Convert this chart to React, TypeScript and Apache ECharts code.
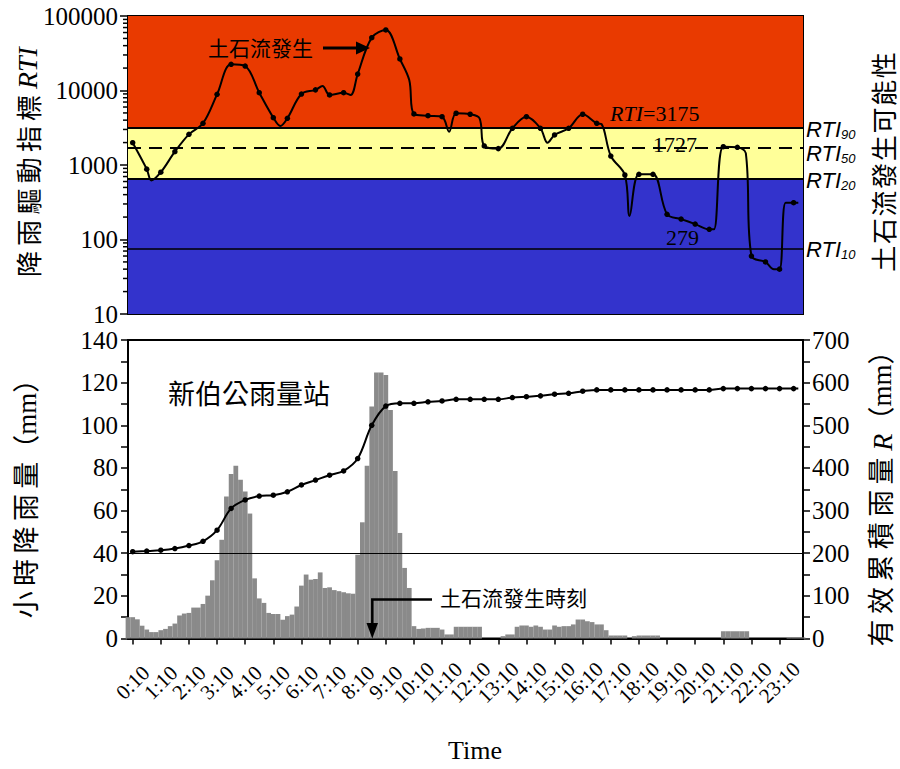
import React, { useEffect, useRef } from 'react';
import * as echarts from 'echarts';

// ---------- data ----------
// hourly rainfall (mm), one value every 10 minutes from 0:00 to 24:00
const hourlyRain = [
  10, 10, 9, 6, 4.2, 3, 3, 3.9, 4.5, 5.8,
  7, 10.8, 11.7, 12, 14.5, 14.5, 16.2, 20.1, 27.3, 36.7,
  46.3, 66.6, 77.2, 81, 74.4, 69, 58.6, 28.2, 18.8, 16.7,
  12, 11.5, 11.5, 8.8, 10.5, 11.2, 15, 24.8, 30, 27.6,
  27.9, 31, 23.7, 24, 22.7, 22.2, 21.7, 21.2, 21, 39.3,
  54.5, 81, 108.8, 124.8, 124.8, 123.6, 107.2, 78.6, 49.5, 33.1,
  23.7, 5.8, 4.5, 4.7, 5, 5, 5, 4.2, 1.9, 1.9,
  5.5, 5.5, 5.5, 5.5, 5.5, 5.5, 0, 0, 0, 0,
  1.1, 1.9, 1.9, 5.5, 6.1, 6.1, 5.5, 6.1, 5.5, 4.2,
  4.2, 6.1, 5.5, 5.8, 5.8, 6.6, 8.9, 8.9, 8.1, 7.7,
  6.6, 6.6, 3.9, 1.4, 1.4, 1.4, 1.4, 0, 1.1, 1.4,
  1.4, 1.4, 1.4, 1.4, 0, 0, 0, 0, 0, 0,
  0, 0, 0, 0, 0, 0, 0, 3.4, 3.4, 3.4,
  3.4, 3.4, 3.4, 0, 0, 0, 0, 0, 0, 0,
  0, 0.5, 0.5, 0.5, 0.5,
];

// effective accumulated rainfall R (mm)
const cumTimes = [
  10, 40, 70, 100, 130, 160, 190, 220, 250, 280,
  310, 340, 370, 400, 430, 460, 490, 520, 550, 580,
  610, 640, 670, 700, 730, 760, 790, 820, 850, 880,
  910, 940, 970, 1000, 1030, 1060, 1090, 1120, 1150, 1180,
  1210, 1240, 1270, 1300, 1330, 1360, 1390, 1420, 1430,
];
const cumRain = [
  203.5, 205, 207, 211, 218, 228, 254, 305, 325, 334,
  336, 344, 360, 371.5, 383, 393, 422, 500, 545, 551.5,
  551.5, 555, 557, 561, 561, 561, 561, 565, 567, 569,
  573, 575, 580, 583, 583, 583, 583, 583, 583, 583,
  583, 583, 586, 586, 586, 586, 586, 586, 586,
];

// rainfall triggering index RTI
const rtiTimes = [
  10, 40, 50, 70, 100, 130, 160, 190, 220, 250,
  280, 310, 325, 340, 370, 400, 415, 430, 460, 475,
  490, 520, 550, 580, 600, 610, 640, 670, 685, 700,
  730, 750, 760, 790, 820, 850, 880, 895, 910, 940,
  970, 1000, 1010, 1030, 1060, 1070, 1090, 1120, 1150, 1180,
  1210, 1240, 1250, 1270, 1300, 1318, 1330, 1360, 1378, 1390,
  1403, 1420, 1430,
];
const rtiValues = [
  1990, 880, 620, 800, 1510, 2580, 3630, 8890, 22500, 21300,
  9340, 4320, 3340, 4230, 8970, 10200, 11500, 8710, 9340, 8710,
  16600, 51200, 64900, 26500, 13800, 4840, 4590, 4450, 2800, 4950,
  4800, 4230, 1800, 1660, 3110, 4450, 3110, 1990, 2530, 3110,
  4800, 3630, 3550, 1320, 734, 207, 750, 750, 218, 188,
  161, 137, 137, 1760, 1730, 1440, 60, 50, 40, 40,
  312, 312, 312,
];

// thresholds
const RTI90 = 3175;
const RTI50 = 1727;
const RTI20 = 646;
const RTI10 = 76;
const rainLine = 40;

// axis ticks (minutes after midnight) and labels
const timeTicks = [10, 70, 130, 190, 250, 310, 370, 430, 490, 550, 610, 670, 730, 790, 850, 910, 970, 1030, 1090, 1150, 1210, 1270, 1330, 1390];
const timeLabels = ['0:10', '1:10', '2:10', '3:10', '4:10', '5:10', '6:10', '7:10', '8:10', '9:10', '10:10', '11:10', '12:10', '13:10', '14:10', '15:10', '16:10', '17:10', '18:10', '19:10', '20:10', '21:10', '22:10', '23:10'];
const logMinor = [20, 30, 40, 50, 60, 70, 80, 90, 200, 300, 400, 500, 600, 700, 800, 900, 2000, 3000, 4000, 5000, 6000, 7000, 8000, 9000, 20000, 30000, 40000, 50000, 60000, 70000, 80000, 90000];

const SERIF = "'Liberation Serif', 'Times New Roman', serif";
const CJK = "'Noto Sans CJK TC', 'Noto Sans CJK SC', sans-serif";
const MIX = "'Liberation Serif', 'Noto Sans CJK TC', serif";
const SANS = "'Liberation Sans', Arial, sans-serif";

const sp = (s: string, gap: string) => Array.from(s).join(gap);

export default function App() {
  const ref = useRef<HTMLDivElement>(null);

  useEffect(() => {
    if (!ref.current) return;
    const chart = echarts.init(ref.current, undefined, { renderer: 'svg' });

    const barData = hourlyRain.map((v, i) => [i * 10, v]);
    const cumData = cumTimes.map((t, i) => [t, cumRain[i]]);
    const rtiData = rtiTimes.map((t, i) => [t, rtiValues[i]]);
    const dotSize = (_v: any, p: any) => {
      const t = p.data[0];
      return t % 30 === 10 && t <= 1420 ? 5.5 : 0;
    };

    const axisLineStyle = { color: '#000', width: 2 };
    const THIN = '\u2009';
    const HAIR = '\u200A';
    // empty placeholder labels at the axis ends so that no real label is dropped
    const labelValues = [0, ...timeTicks, 1440];
    const labelFor = (v: number) => {
      const i = timeTicks.indexOf(v);
      return i >= 0 ? timeLabels[i] : '';
    };

    const option: any = {
      animation: false,
      grid: [
        { left: 128, right: 97, top: 16, height: 298, show: true, borderColor: '#000', borderWidth: 2, backgroundColor: 'transparent' },
        { left: 128, right: 97, top: 340, height: 298.5, show: true, borderColor: '#000', borderWidth: 2, backgroundColor: 'transparent' },
      ],
      xAxis: [
        {
          gridIndex: 0, type: 'value', min: 0, max: 1440,
          axisLabel: { show: false }, axisTick: { show: false }, splitLine: { show: false },
          axisLine: { show: true, lineStyle: axisLineStyle },
        },
        {
          gridIndex: 1, type: 'value', min: 0, max: 1440,
          splitLine: { show: false },
          axisLine: { show: true, onZero: false, lineStyle: axisLineStyle },
          axisTick: { show: true, customValues: timeTicks, length: 6, lineStyle: { color: '#000', width: 1.5 } },
          axisLabel: {
            show: true, customValues: labelValues, rotate: 45, margin: 44,
            align: 'center', verticalAlign: 'middle', hideOverlap: false,
            fontFamily: SERIF, fontSize: 21, color: '#000',
            formatter: labelFor,
          },
        },
      ],
      yAxis: [
        {
          gridIndex: 0, type: 'log', logBase: 10, min: 10, max: 100000,
          splitLine: { show: false },
          axisLine: { show: true, lineStyle: axisLineStyle },
          axisTick: { show: true, length: 8, lineStyle: { color: '#000', width: 1.5 } },
          axisLabel: { fontFamily: SERIF, fontSize: 25, color: '#000', margin: 10, formatter: (v: number) => String(v) },
        },
        {
          gridIndex: 1, type: 'value', min: 0, max: 140, interval: 20,
          splitLine: { show: false },
          axisLine: { show: true, lineStyle: axisLineStyle },
          axisTick: { show: true, length: 7, lineStyle: { color: '#000', width: 1.5 } },
          minorTick: { show: true, splitNumber: 2, length: 7, lineStyle: { color: '#000', width: 1.5 } },
          axisLabel: { fontFamily: SERIF, fontSize: 25, color: '#000', margin: 10 },
        },
        {
          gridIndex: 1, type: 'value', position: 'right', min: 0, max: 700, interval: 100,
          splitLine: { show: false },
          axisLine: { show: true, lineStyle: axisLineStyle },
          axisTick: { show: true, length: 7, lineStyle: { color: '#000', width: 1.5 } },
          minorTick: { show: true, splitNumber: 2, length: 7, lineStyle: { color: '#000', width: 1.5 } },
          axisLabel: { fontFamily: SERIF, fontSize: 25, color: '#000', margin: 9 },
        },
      ],
      series: [
        {
          name: 'bands', type: 'line', xAxisIndex: 0, yAxisIndex: 0, data: [], z: 1,
          silent: true,
          markArea: {
            silent: true,
            data: [
              [{ yAxis: RTI90, itemStyle: { color: '#E93A00' } }, { yAxis: 100000 }],
              [{ yAxis: RTI20, itemStyle: { color: '#FFFF99' } }, { yAxis: RTI90 }],
              [{ yAxis: 10, itemStyle: { color: '#3333CC' } }, { yAxis: RTI20 }],
            ],
          },
        },
        {
          name: 'thresholds', type: 'line', xAxisIndex: 0, yAxisIndex: 0, data: [], z: 2,
          silent: true,
          markLine: {
            silent: true, symbol: 'none', label: { show: false },
            data: [
              { yAxis: RTI90, lineStyle: { color: '#000', width: 2, type: 'solid' } },
              { yAxis: RTI50, lineStyle: { color: '#000', width: 2, type: [13, 8] } },
              { yAxis: RTI20, lineStyle: { color: '#000', width: 2, type: 'solid' } },
              { yAxis: RTI10, lineStyle: { color: '#000', width: 1.5, type: 'solid' } },
            ],
          },
        },
        {
          name: 'minorTicks', type: 'custom', xAxisIndex: 0, yAxisIndex: 0, z: 3, silent: true,
          data: logMinor.map((v) => [0, v]),
          renderItem: (_p: any, api: any) => {
            const pt = api.coord([0, api.value(1)]);
            return {
              type: 'line',
              shape: { x1: pt[0] - 5, y1: pt[1], x2: pt[0], y2: pt[1] },
              style: { stroke: '#000', lineWidth: 1.5 },
            };
          },
        },
        {
          name: 'RTI', type: 'line', xAxisIndex: 0, yAxisIndex: 0, z: 5,
          data: rtiData, smooth: 0.35, showAllSymbol: true,
          symbol: 'circle', symbolSize: dotSize,
          lineStyle: { color: '#000', width: 2 }, itemStyle: { color: '#000' },
        },
        {
          name: 'hourly', type: 'bar', xAxisIndex: 1, yAxisIndex: 1, z: 2,
          data: barData, barWidth: 4.75, barGap: '-100%',
          itemStyle: { color: '#8a8a8a' },
          markLine: {
            silent: true, symbol: 'none', label: { show: false },
            data: [{ yAxis: rainLine, lineStyle: { color: '#000', width: 1, type: 'solid' } }],
          },
        },
        {
          name: 'cumulative', type: 'line', xAxisIndex: 1, yAxisIndex: 2, z: 5,
          data: cumData, smooth: 0.35, showAllSymbol: true,
          symbol: 'circle', symbolSize: dotSize,
          lineStyle: { color: '#000', width: 2 }, itemStyle: { color: '#000' },
        },
      ],
      graphic: [
        // titles
        {
          type: 'text', x: 27, y: 162, rotation: Math.PI / 2, z: 10,
          style: {
            text: `{c|${sp('降雨驅動指標', THIN)} }{i|RTI}`, align: 'center', verticalAlign: 'middle',
            rich: {
              c: { fontFamily: CJK, fontSize: 26, fill: '#000' },
              i: { fontFamily: SERIF, fontSize: 28, fontStyle: 'italic', fill: '#000' },
            },
          },
        },
        {
          type: 'text', x: 882, y: 162, rotation: Math.PI / 2, z: 10,
          style: { text: sp('土石流發生可能性', HAIR), fontFamily: CJK, fontSize: 26, fill: '#000', align: 'center', verticalAlign: 'middle' },
        },
        {
          type: 'text', x: 27, y: 492, rotation: Math.PI / 2, z: 10,
          style: { text: sp('小時降雨量', THIN) + '（mm）', fontFamily: MIX, fontSize: 27, fill: '#000', align: 'center', verticalAlign: 'middle' },
        },
        {
          type: 'text', x: 882, y: 492, rotation: Math.PI / 2, z: 10,
          style: {
            text: `{c|${sp('有效累積雨量', THIN)} }{i|R}{c|（mm）}`, align: 'center', verticalAlign: 'middle',
            rich: {
              c: { fontFamily: MIX, fontSize: 27, fill: '#000' },
              i: { fontFamily: SERIF, fontSize: 28, fontStyle: 'italic', fill: '#000' },
            },
          },
        },
        {
          type: 'text', x: 475, y: 750, z: 10,
          style: { text: 'Time', fontFamily: SERIF, fontSize: 26, fill: '#000', align: 'center', verticalAlign: 'middle' },
        },
        // threshold labels
        {
          type: 'text', x: 610, y: 113, z: 10,
          style: {
            text: '{i|RTI}{n|=3175}', verticalAlign: 'middle',
            rich: {
              i: { fontFamily: SERIF, fontSize: 22, fontStyle: 'italic', fill: '#000' },
              n: { fontFamily: SERIF, fontSize: 22, fill: '#000' },
            },
          },
        },
        { type: 'text', x: 653, y: 144, z: 10, style: { text: '1727', fontFamily: SERIF, fontSize: 22, fill: '#000', verticalAlign: 'middle' } },
        { type: 'text', x: 666, y: 237, z: 10, style: { text: '279', fontFamily: SERIF, fontSize: 22, fill: '#000', verticalAlign: 'middle' } },
        ...[
          { y: 129, s: '90' },
          { y: 153, s: '50' },
          { y: 180, s: '20' },
          { y: 249, s: '10' },
        ].map((d) => ({
          type: 'text', x: 806, y: d.y, z: 10,
          style: {
            text: `{i|RTI}{s|${d.s}}`, verticalAlign: 'middle',
            rich: {
              i: { fontFamily: SANS, fontSize: 22, fontStyle: 'italic', fill: '#000' },
              s: { fontFamily: SANS, fontSize: 13, fontStyle: 'italic', fill: '#000', verticalAlign: 'bottom', padding: [10, 0, 0, 0] },
            },
          },
        })),
        // debris flow annotation (top)
        { type: 'text', x: 208, y: 47, z: 10, style: { text: '土石流發生', fontFamily: CJK, fontSize: 21, fill: '#000', verticalAlign: 'middle' } },
        { type: 'line', z: 10, shape: { x1: 323, y1: 48, x2: 358, y2: 48 }, style: { stroke: '#000', lineWidth: 3 } },
        { type: 'polygon', z: 10, shape: { points: [[356, 41.5], [370, 48], [356, 54.5]] }, style: { fill: '#000' } },
        // station name
        { type: 'text', x: 168, y: 392, z: 10, style: { text: '新伯公雨量站', fontFamily: CJK, fontSize: 27, fill: '#000', verticalAlign: 'middle' } },
        // debris flow time annotation (bottom)
        { type: 'polyline', z: 10, shape: { points: [[432, 599.5], [372.3, 599.5], [372.3, 626]] }, style: { stroke: '#000', lineWidth: 2.5, fill: null } },
        { type: 'polygon', z: 10, shape: { points: [[366.5, 623], [378, 623], [372.3, 638.5]] }, style: { fill: '#000' } },
        { type: 'text', x: 440, y: 597, z: 10, style: { text: '土石流發生時刻', fontFamily: CJK, fontSize: 21, fill: '#000', verticalAlign: 'middle' } },
      ],
    };

    chart.setOption(option);
    return () => chart.dispose();
  }, []);

  return <div ref={ref} style={{ width: 900, height: 769, position: 'absolute', left: 0, top: 0, background: '#fff' }} />;
}
